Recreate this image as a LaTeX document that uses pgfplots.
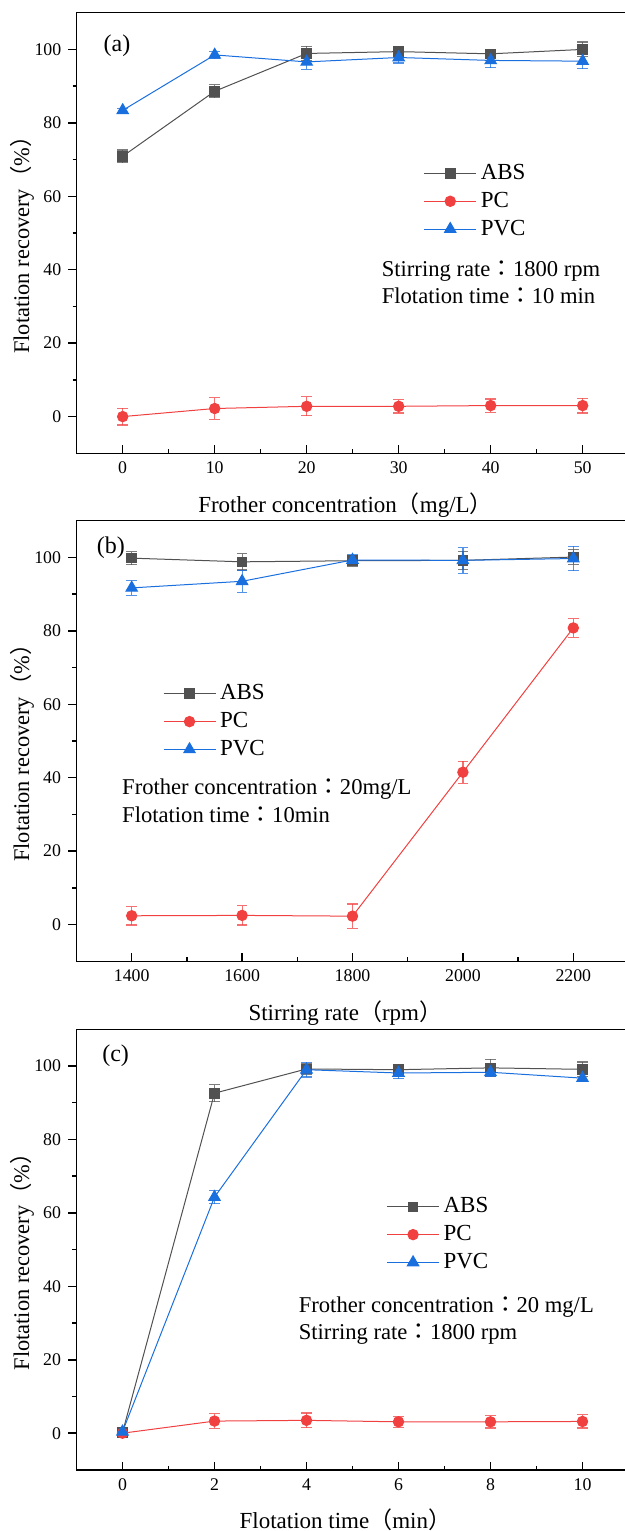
\documentclass[border=0pt]{standalone}
\usepackage{fontspec}
\setmainfont{Liberation Serif}
\newfontfamily\cjk{Noto Sans CJK SC}
\newfontfamily\cjkc{Noto Sans CJK TC}
\usepackage{pgfplots}
\pgfplotsset{compat=1.18}

\definecolor{absc}{HTML}{515151}
\definecolor{pcc}{HTML}{F14040}
\definecolor{pvcc}{HTML}{1A6FDF}

\tikzset{note/.style={anchor=base west, font=\fontsize{11.3}{13}\selectfont}}

\pgfplotsset{
  panel/.style={
    scale only axis,
    width=276pt, height=220.3pt,
    ymin=-10, ymax=110,
    ytick={0,20,...,100},
    minor y tick num=1,
    minor x tick num=1,
    tick align=outside,
    xtick pos=bottom, ytick pos=left,
    major tick length=4.2pt,
    minor tick length=2pt,
    major x tick style={yshift=4.2pt},
    minor x tick style={yshift=2pt},
    tick style={line width=0.75pt, black},
    axis line style={line width=0.75pt},
    /pgf/number format/assume math mode=true,
    /pgf/number format/1000 sep={},
    ticklabel style={font=\fontsize{8.9}{10}\selectfont},
    xticklabel style={yshift=3.4pt},
    ylabel={Flotation recovery{\cjk （}\%{\cjk ）}},
    every axis y label/.style={at={(axis description cs:-0.099,0.485)}, rotate=90, anchor=center,
      font=\fontsize{11.2}{13}\selectfont},
    every axis x label/.style={at={(axis description cs:0.487,-0.1333)}, anchor=base,
      font=\fontsize{11.5}{13}\selectfont},
    legend cell align=left,
    legend style={draw=none, fill=none, font=\fontsize{11.5}{13}\selectfont, row sep=0.8pt, inner sep=0pt},
    legend image code/.code={\draw[mark repeat=2,mark phase=2,##1] plot coordinates {(0pt,0pt)(13pt,0pt)(26pt,0pt)};},
  },
  sabs/.style={color=absc, line width=0.5pt, mark=square*, mark size=2.4pt, mark options={solid},
    error bars/.cd, y dir=both, y explicit, error bar style={line width=0.6pt, absc, opacity=0.75},
    error mark options={rotate=90, mark size=2.6pt, line width=0.6pt, absc, opacity=0.75}},
  spc/.style={color=pcc, line width=0.5pt, mark=*, mark size=2.6pt, mark options={solid},
    error bars/.cd, y dir=both, y explicit, error bar style={line width=0.6pt, pcc, opacity=0.75},
    error mark options={rotate=90, mark size=2.6pt, line width=0.6pt, pcc, opacity=0.75}},
  spvc/.style={color=pvcc, line width=0.5pt, mark=triangle*, mark size=3.3pt, mark options={solid},
    error bars/.cd, y dir=both, y explicit, error bar style={line width=0.6pt, pvcc, opacity=0.75},
    error mark options={rotate=90, mark size=2.6pt, line width=0.6pt, pvcc, opacity=0.75}},
}

\begin{document}
\begin{tikzpicture}
\path[use as bounding box] (0pt,0pt) rectangle (312.5pt,-765.5pt);

% (a) frother concentration
\begin{axis}[panel, at={(38.35pt,-6.35pt)}, anchor=north west,
  xmin=-5, xmax=55, xtick={0,10,...,50},
  xlabel={Frother concentration{\cjk （}mg/L{\cjk ）}},
  legend style={at={(rel axis cs:0.628,0.572)}, anchor=west}]
\addplot+[sabs] coordinates {
  (0,70.9) +- (0,1.7) (10,88.6) +- (0,1.8) (20,98.9) +- (0,2.0)
  (30,99.4) +- (0,1.0) (40,98.8) +- (0,1.0) (50,100.0) +- (0,2.0)};
\addplot+[spc] coordinates {
  (0,0.0) +- (0,2.3) (10,2.2) +- (0,2.9) (20,2.8) +- (0,2.6)
  (30,2.8) +- (0,1.8) (40,3.0) +- (0,1.8) (50,3.0) +- (0,2.0)};
\addplot+[spvc] coordinates {
  (0,83.4) +- (0,0.5) (10,98.5) +- (0,1.0) (20,96.6) +- (0,2.0)
  (30,97.8) +- (0,1.5) (40,97.0) +- (0,2.0) (50,96.8) +- (0,2.0)};
\legend{ABS,PC,PVC}
\node[note] at (rel axis cs:0.540,0.402) {Stirring rate{\cjkc ：}1800 rpm};
\node[note] at (rel axis cs:0.540,0.341) {Flotation time{\cjkc ：}10 min};
\node[note, font=\fontsize{12}{13}\selectfont] at (rel axis cs:0.036,0.912) {(a)};
\end{axis}

% (b) stirring rate
\begin{axis}[panel, at={(38.25pt,-260.35pt)}, anchor=north west,
  xmin=1300, xmax=2300, xtick={1400,1600,...,2200},
  xlabel={Stirring rate{\cjk （}rpm{\cjk ）}},
  legend style={at={(rel axis cs:0.156,0.544)}, anchor=west}]
\addplot+[sabs] coordinates {
  (1400,99.8) +- (0,1.8) (1600,98.8) +- (0,2.2) (1800,99.1) +- (0,1.5)
  (2000,99.2) +- (0,2.5) (2200,100.1) +- (0,2.0)};
\addplot+[spc] coordinates {
  (1400,2.4) +- (0,2.5) (1600,2.5) +- (0,2.6) (1800,2.3) +- (0,3.3)
  (2000,41.5) +- (0,3.0) (2200,80.8) +- (0,2.5)};
\addplot+[spvc] coordinates {
  (1400,91.7) +- (0,2.0) (1600,93.5) +- (0,3.0) (1800,99.3) +- (0,1.5)
  (2000,99.2) +- (0,3.5) (2200,99.7) +- (0,3.3)};
\legend{ABS,PC,PVC}
\node[note] at (rel axis cs:0.070,0.378) {Frother concentration{\cjkc ：}20mg/L};
\node[note] at (rel axis cs:0.070,0.315) {Flotation time{\cjkc ：}10min};
\node[note, font=\fontsize{12}{13}\selectfont] at (rel axis cs:0.024,0.925) {(b)};
\end{axis}

% (c) flotation time
\begin{axis}[panel, at={(38.25pt,-514.65pt)}, anchor=north west,
  xmin=-1, xmax=11, xtick={0,2,...,10},
  xlabel={Flotation time{\cjk （}min{\cjk ）}},
  legend style={at={(rel axis cs:0.561,0.534)}, anchor=west}]
\addplot+[sabs] coordinates {
  (0,0.2) +- (0,0.5) (2,92.6) +- (0,2.3) (4,99.2) +- (0,1.5)
  (6,99.0) +- (0,1.0) (8,99.5) +- (0,2.3) (10,99.1) +- (0,2.0)};
\addplot+[spc] coordinates {
  (0,0.0) +- (0,0.5) (2,3.3) +- (0,2.0) (4,3.5) +- (0,2.0)
  (6,3.1) +- (0,1.5) (8,3.1) +- (0,1.7) (10,3.2) +- (0,1.8)};
\addplot+[spvc] coordinates {
  (0,0.4) +- (0,0.5) (2,64.3) +- (0,1.8) (4,99.0) +- (0,2.0)
  (6,98.1) +- (0,1.5) (8,98.3) +- (0,1.2) (10,96.7) +- (0,1.0)};
\legend{ABS,PC,PVC}
\node[note] at (rel axis cs:0.390,0.357) {Frother concentration{\cjkc ：}20 mg/L};
\node[note] at (rel axis cs:0.390,0.295) {Stirring rate{\cjkc ：}1800 rpm};
\node[note, font=\fontsize{12}{13}\selectfont] at (rel axis cs:0.034,0.926) {(c)};
\end{axis}
\end{tikzpicture}
\end{document}
